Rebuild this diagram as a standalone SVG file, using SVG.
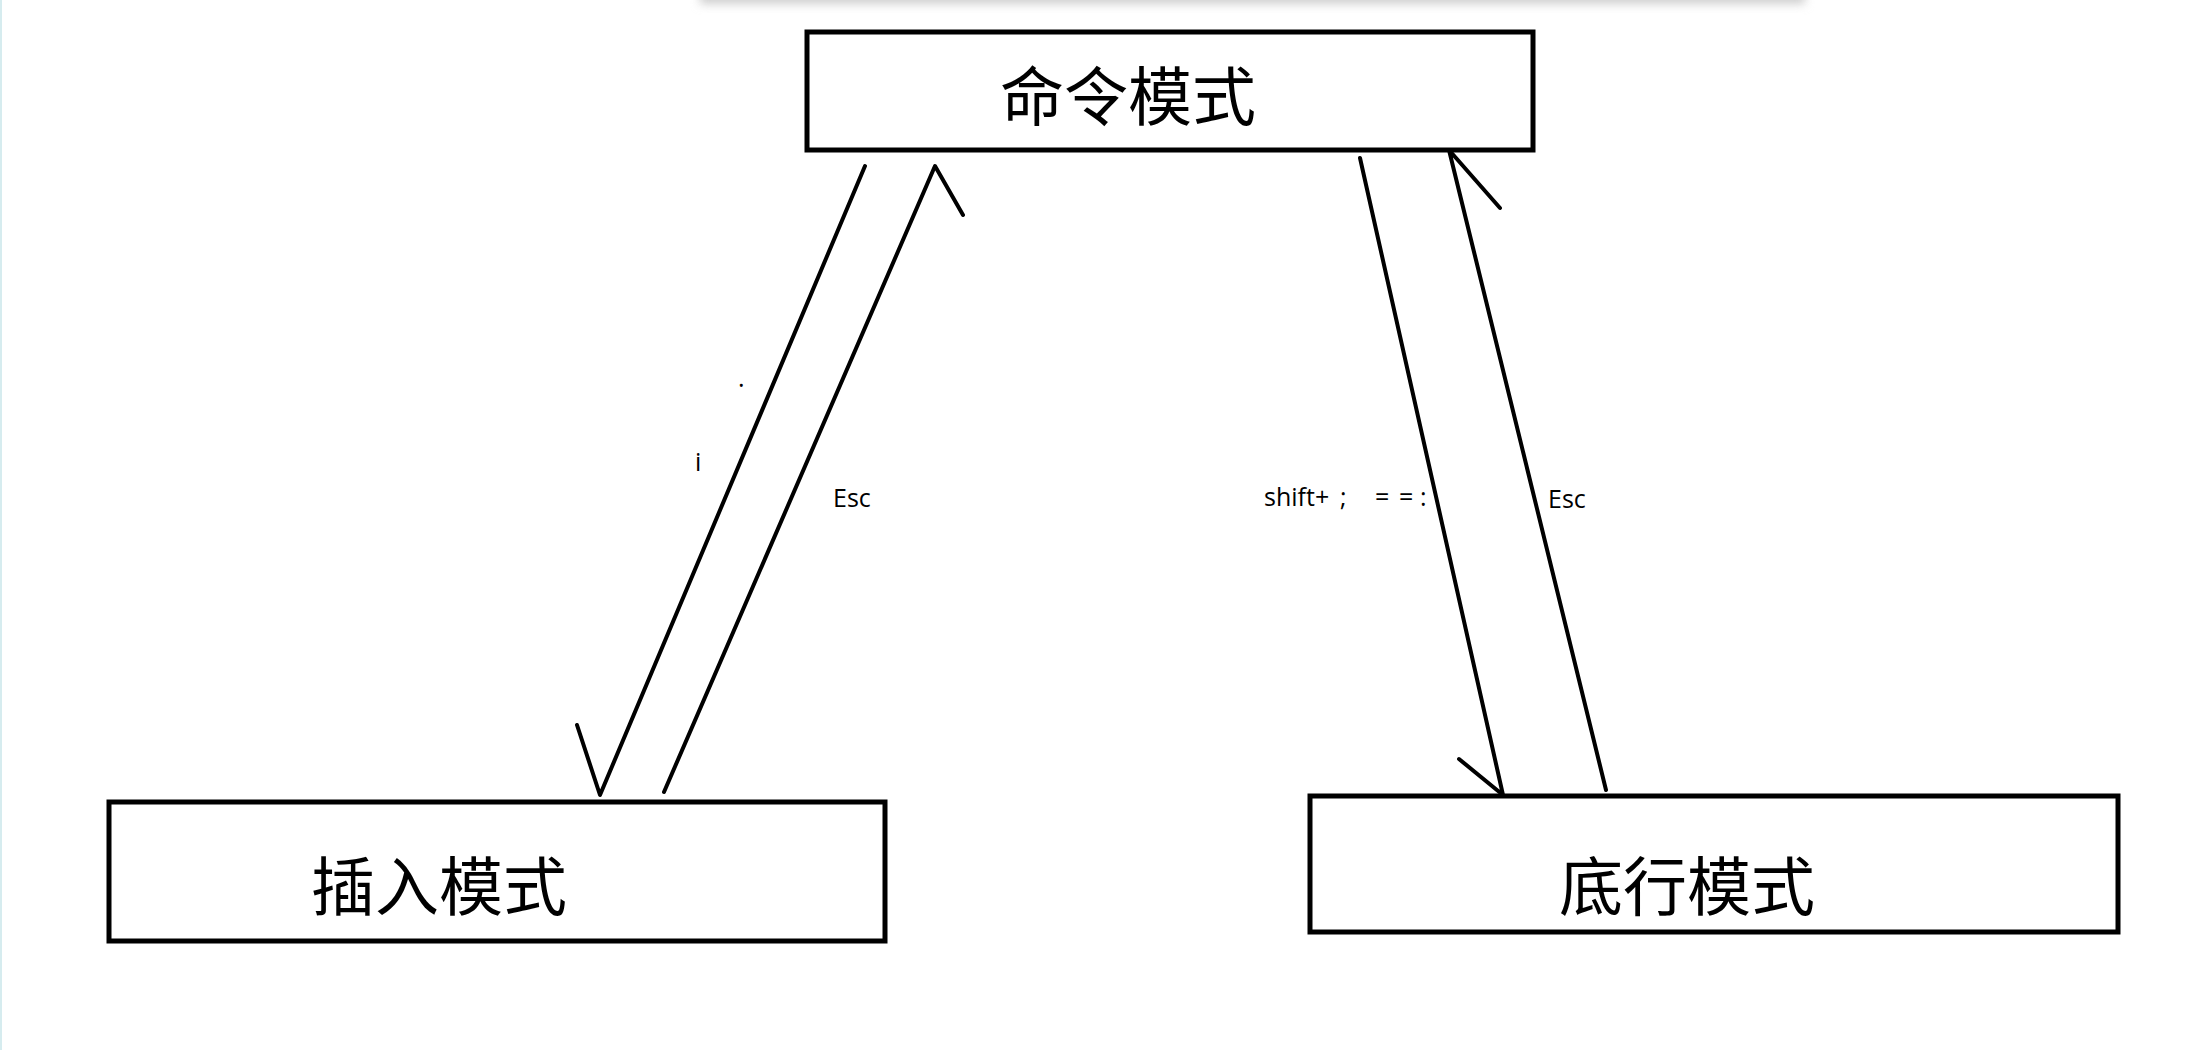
<svg xmlns="http://www.w3.org/2000/svg" width="2205" height="1050" viewBox="0 0 2205 1050">
<defs>
<style>
.box{fill:#fff;stroke:#000;stroke-width:5}
.title{font-family:"Noto Sans CJK SC","Noto Sans",sans-serif;font-size:64px;fill:#000}
.lbl{font-family:"Open Sans","Noto Sans",sans-serif;font-size:25px;fill:#000}
.ln{stroke:#000;stroke-width:4;fill:none;stroke-linecap:round;stroke-linejoin:round}
</style>
<filter id="sh" x="-5%" y="-200%" width="110%" height="500%"><feGaussianBlur stdDeviation="5"/></filter>
</defs>
<rect width="2205" height="1050" fill="#fff"/>
<rect x="0" y="0" width="2" height="1050" fill="#d6ecef"/>
<rect x="700" y="-12" width="1105" height="16" fill="#cfcfcf" filter="url(#sh)"/>
<g id="node-command">
<rect class="box" x="807" y="32" width="726" height="118"/>
<text class="title" x="1000" y="120">命令模式</text>
</g>
<g id="node-insert">
<rect class="box" x="109" y="802" width="776" height="139"/>
<text class="title" x="311" y="910">插入模式</text>
</g>
<g id="node-bottom">
<rect class="box" x="1310" y="796" width="808" height="136"/>
<text class="title" x="1559" y="910">底行模式</text>
</g>
<g id="connectors">
<path class="ln" d="M865,166 L600,795 L577,725"/>
<path class="ln" d="M664,792 L935,166 L963,215"/>
<path class="ln" d="M1360,158 L1503,795 L1459,759"/>
<path class="ln" d="M1606,790 L1449,150 L1500,208"/>
</g>
<g id="labels">
<text class="lbl" x="738" y="387">.</text>
<text class="lbl" x="695" y="471">i</text>
<text class="lbl" x="833" y="507">Esc</text>
<text class="lbl" y="506"><tspan x="1264">shift+</tspan><tspan x="1340">;</tspan><tspan x="1375">=</tspan><tspan x="1399">=</tspan><tspan x="1420">:</tspan></text>
<text class="lbl" x="1548" y="508">Esc</text>
</g>
</svg>
